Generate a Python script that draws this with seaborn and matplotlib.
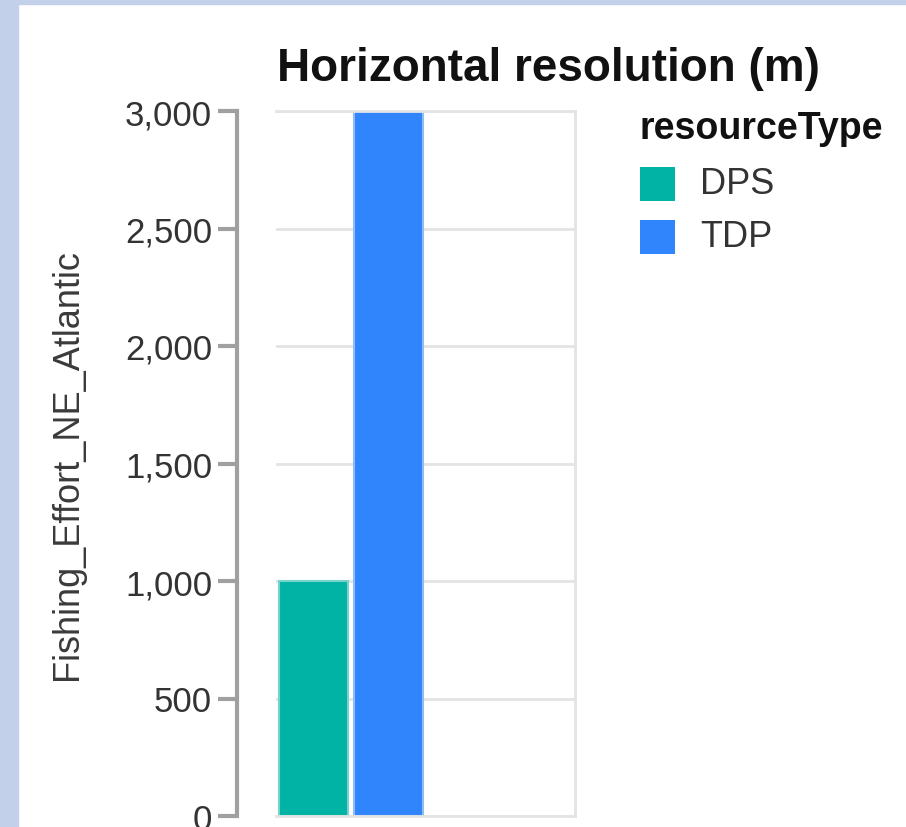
import matplotlib
matplotlib.use("Agg")
import matplotlib.pyplot as plt
import seaborn as sns
import pandas as pd
from matplotlib.patches import Rectangle
from matplotlib.ticker import FuncFormatter

resource_types = ["DPS", "TDP"]
values = [1000, 3000]
colors = ["#00B3A4", "#3185FC"]
y_ticks = [0, 500, 1000, 1500, 2000, 2500, 3000]

df = pd.DataFrame({"resourceType": resource_types, "value": values})

sns.set_theme(style="white")
plt.rcParams["font.family"] = ["Liberation Sans", "DejaVu Sans"]

W, H = 906, 828
fig = plt.figure(figsize=(W / 100, H / 100), dpi=100)
fig.patch.set_facecolor("white")
# page border
fig.patches.append(Rectangle((0, 0), 18 / W, 1, transform=fig.transFigure, color="#C2D0EA", zorder=0))
fig.patches.append(Rectangle((0, 1 - 5 / H), 1, 5 / H, transform=fig.transFigure, color="#C2D0EA", zorder=0))

ax = fig.add_axes([276 / W, 1 - 817 / H, (575 - 276) / W, (817 - 112) / H])
sns.barplot(data=df, x="resourceType", y="value", hue="resourceType",
            palette=colors, order=resource_types, hue_order=resource_types,
            width=0.92, dodge=False, legend=False, ax=ax, saturation=1,
            edgecolor=None, linewidth=0)
for p, c in zip(ax.patches, colors):
    p.set_edgecolor(sns.light_palette(c, 3)[1])
    p.set_linewidth(1.5)

ax.set_xlim(-0.5, 3.5)
ax.set_ylim(0, 3000)
ax.set_yticks(y_ticks)
ax.set_xticks([])
ax.set_xlabel("")
ax.set_ylabel("Fishing_Effort_NE_Atlantic", fontsize=26, color="#3a3a3a")
ax.grid(axis="y", color="#E4E4E4", linewidth=2)
ax.set_axisbelow(True)
for s in ["top", "right", "bottom"]:
    ax.spines[s].set_color("#E4E4E4")
    ax.spines[s].set_linewidth(2)
ax.spines["left"].set_visible(False)
ax.yaxis.set_label_coords(-0.64, 0.5, transform=ax.transAxes)

# offset y-axis
ax2 = ax.twinx()
ax2.set_ylim(0, 3000)
ax2.yaxis.set_ticks_position("left")
ax2.spines["left"].set_visible(True)
ax2.spines["left"].set_position(("outward", 28))
ax2.spines["left"].set_color("#A0A0A0")
ax2.spines["left"].set_linewidth(3)
for s in ["top", "right", "bottom"]:
    ax2.spines[s].set_visible(False)
ax2.set_yticks(y_ticks)
ax2.yaxis.set_major_formatter(FuncFormatter(lambda v, _: f"{int(v):,}"))
ax2.tick_params(axis="y", direction="out", length=14, width=3, color="#A0A0A0",
                labelsize=25, labelcolor="#333333", pad=4, left=True, labelleft=True,
                right=False, labelright=False)
ax2.set_xticks([])
ax.tick_params(axis="y", left=False, labelleft=False, right=False, labelright=False)

fig.text(277 / W, 1 - 69 / H, "Horizontal resolution (m)", fontsize=33, fontweight="bold",
         ha="left", va="center", color="#111111")

# legend
fig.text(640 / W, 1 - 129 / H, "resourceType", fontsize=27, fontweight="bold",
         ha="left", va="center", color="#111111")
for i, (lab, c) in enumerate(zip(resource_types, colors)):
    yc = 185 + i * 53
    fig.patches.append(Rectangle((640 / W, 1 - (yc + 17) / H), 35 / W, 34 / H,
                                 transform=fig.transFigure, facecolor=c, edgecolor="none"))
    fig.text(700 / W, 1 - yc / H, lab, fontsize=26, ha="left", va="center", color="#333333")

fig.savefig("out.png", dpi=100)
